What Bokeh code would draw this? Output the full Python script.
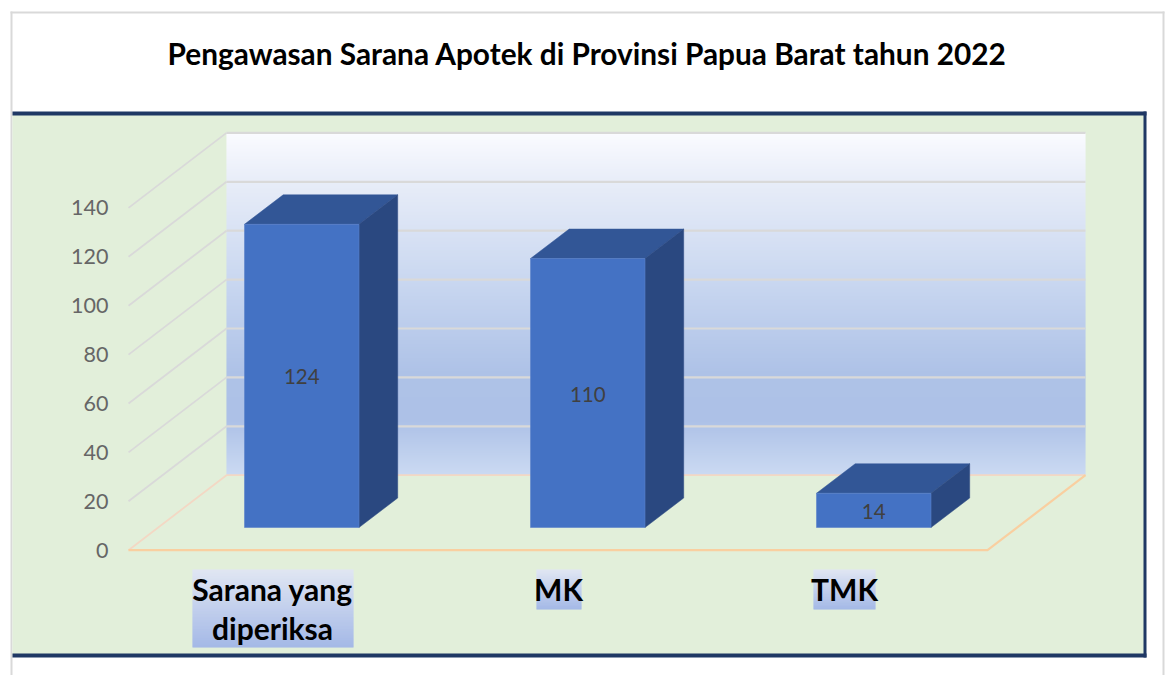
from bokeh.plotting import figure
from bokeh.embed import file_html
from bokeh.resources import INLINE
from bokeh.models import Range1d, FixedTicker, Label
from bokeh.core.properties import value

title_text = "Pengawasan Sarana Apotek di Provinsi Papua Barat tahun 2022"
categories = ["Sarana yang\ndiperiksa", "MK", "TMK"]
bar_values = [124, 110, 14]
value_ticks = [0, 20, 40, 60, 80, 100, 120, 140]

# layout, in window pixels
W, H = 1168, 675
AXIS_X, AXIS_Y = 114, 560
ZERO_PX, PX_PER_UNIT = 549.7, 2.445
DEPTH_X, DEPTH_Y = 98.0, 75.0 / PX_PER_UNIT
FLOOR_L = 128.0
FLOOR_W = 859.0
BAR_L0, BAR_STEP, BAR_W = 244.0, 286.0, 114.5
BAR_BASE = (ZERO_PX - 527.0) / PX_PER_UNIT
BAR_DX, BAR_DY = 38.7, 29.5 / PX_PER_UNIT
LABEL_X = [272, 558, 844]
LABEL_BOXES = [(192, 353, 569, 647), (536, 581, 569, 609), (813, 875, 569, 609)]
VMAX = value_ticks[-1]


def v(px):
    return (ZERO_PX - px) / PX_PER_UNIT


def lerp(stops, t):
    for (t0, c0), (t1, c1) in zip(stops, stops[1:]):
        if t <= t1:
            f = (t - t0) / (t1 - t0)
            return "#%02x%02x%02x" % tuple(round(a + (b - a) * f) for a, b in zip(c0, c1))
    return "#%02x%02x%02x" % stops[-1][1]


p = figure(
    width=W, height=H, output_backend="svg", toolbar_location=None,
    x_range=Range1d(0, W),
    y_range=Range1d(v(H), v(0)),
    min_border=0,
    background_fill_color="white", border_fill_color="white",
    outline_line_color=None,
)
p.grid.visible = False


def box(l, r, t, b, color):
    p.quad(left=[l], right=[r], top=[v(t)], bottom=[v(b)], fill_color=color, line_color=None)


# slide frame and panel
box(10, 12, 11, H, "#d9d9d9")
box(1162, 1164, 11, H, "#d9d9d9")
box(10, 1164, 11, 13, "#d9d9d9")
box(12, 1144, 114, 654, "#e2efda")
box(12, 1146, 111, 115, "#1f3864")
box(1143, 1146, 111, 657, "#1f3864")
box(12, 1146, 653, 657, "#1f3864")

p.add_layout(Label(x=167, y=v(53), text=title_text, text_baseline="middle",
                   text_font="Lato", text_font_size="29.8px", text_font_style="bold",
                   text_color="#000000"))

# highlight behind category labels
HL = [(0.0, (0xe0, 0xe5, 0xf6)), (1.0, (0x9a, 0xb0, 0xe8))]
for l, r, t, b in LABEL_BOXES:
    m = b - t
    p.quad(left=[l] * m, right=[r] * m,
           top=[v(t + i) for i in range(m)],
           bottom=[v(t + i + (1.3 if i < m - 1 else 1.0)) for i in range(m)],
           fill_color=[lerp(HL, i / m) for i in range(m)], line_color=None)

# back wall gradient
WALL = [(0.0, (0xfa, 0xfb, 0xff)), (0.14, (0xe8, 0xed, 0xf8)), (0.43, (0xc9, 0xd7, 0xf0)),
        (0.70, (0xae, 0xc2, 0xe7)), (0.84, (0xad, 0xc1, 0xe7)), (1.0, (0xcb, 0xda, 0xf2))]
wall_l = FLOOR_L + DEPTH_X
wall_r = wall_l + FLOOR_W
top_px = ZERO_PX - (VMAX + DEPTH_Y) * PX_PER_UNIT
bot_px = ZERO_PX - DEPTH_Y * PX_PER_UNIT
n = int(bot_px - top_px)
p.quad(left=[wall_l] * n, right=[wall_r] * n,
       top=[v(top_px + i) for i in range(n)],
       bottom=[v(top_px + i + 1.3) for i in range(n)],
       fill_color=[lerp(WALL, i / n) for i in range(n)], line_color=None)

# gridlines: side wall and back wall
GRID = "#d9d9d9"
for t in value_ticks[1:]:
    p.line([FLOOR_L, wall_l], [t, t + DEPTH_Y], line_color=GRID, line_width=1.8)
    p.line([wall_l, wall_r], [t + DEPTH_Y, t + DEPTH_Y], line_color=GRID, line_width=2.2)

# floor
p.line([FLOOR_L, wall_l, wall_r], [0, DEPTH_Y, DEPTH_Y], line_color="#f3d8c4", line_width=1.8)
p.line([FLOOR_L, FLOOR_L + FLOOR_W, wall_r], [0, 0, DEPTH_Y], line_color="#f9cfa0", line_width=2.2)

# bars
for i, val in enumerate(bar_values):
    x0 = BAR_L0 + i * BAR_STEP
    x1 = x0 + BAR_W
    y0 = BAR_BASE
    y1 = BAR_BASE + val
    p.patch([x0, x1, x1 + BAR_DX, x0 + BAR_DX], [y1, y1, y1 + BAR_DY, y1 + BAR_DY],
            fill_color="#325696", line_color="#325696", line_width=0.5)
    p.patch([x1, x1 + BAR_DX, x1 + BAR_DX, x1], [y0, y0 + BAR_DY, y1 + BAR_DY, y1],
            fill_color="#2a4880", line_color="#2a4880", line_width=0.5)
    p.quad(left=[x0], right=[x1], bottom=[y0], top=[y1], fill_color="#4472c4",
           line_color="#5a82ca", line_width=0.6)
    p.text([(x0 + x1) / 2], [(y0 + y1) / 2 - 0.4], text=[str(val)], text_align="center",
           text_baseline="middle", text_font=value("Lato"), text_font_size="20.5px",
           text_color="#404040")

# axes
ya = p.yaxis[0]
ya.fixed_location = AXIS_X
ya.ticker = FixedTicker(ticks=value_ticks)
ya.axis_line_color = None
ya.major_tick_line_color = None
ya.minor_tick_line_color = None
ya.major_label_standoff = 0
ya.major_label_text_font = "Lato"
ya.major_label_text_font_size = "21.5px"
ya.major_label_text_color = "#666666"

xa = p.xaxis[0]
xa.fixed_location = v(AXIS_Y)
xa.ticker = FixedTicker(ticks=LABEL_X)
xa.major_label_overrides = dict(zip(LABEL_X, categories))
xa.axis_line_color = None
xa.major_tick_line_color = None
xa.minor_tick_line_color = None
xa.major_label_standoff = 4
xa.major_label_text_font = "Lato"
xa.major_label_text_font_style = "bold"
xa.major_label_text_font_size = "30px"
xa.major_label_text_color = "#000000"
xa.major_label_text_line_height = 1.11

open("out.html", "w").write(file_html(p, INLINE))
